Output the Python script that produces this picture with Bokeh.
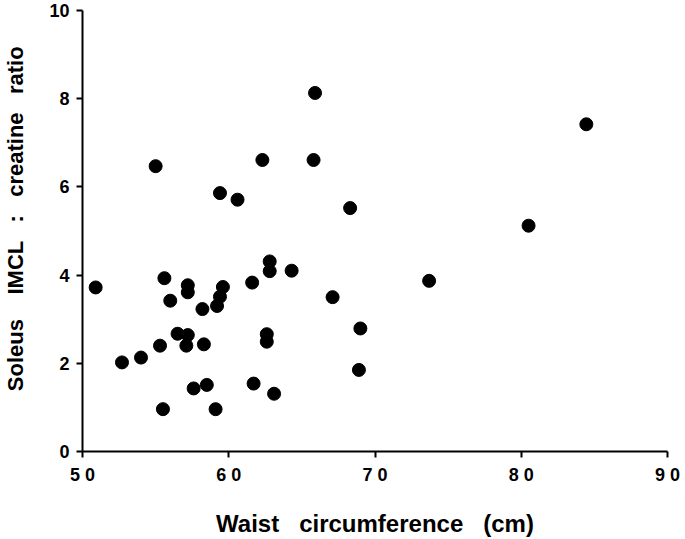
from bokeh.plotting import figure
from bokeh.models import Range1d, FixedTicker
from bokeh.embed import file_html
from bokeh.resources import INLINE

# Data
waist_cm = [50.9, 52.7, 54.0, 55.3, 55.6, 55.5, 56.0, 56.5, 57.2, 57.2,
            57.2, 57.1, 57.6, 58.2, 58.3, 58.5, 59.1, 59.2, 59.4, 59.6,
            60.6, 61.6, 61.7, 62.8, 62.8, 62.6, 62.6, 63.1, 64.3, 67.1,
            68.3, 69.0, 68.9, 65.9, 62.3, 65.8, 59.4, 55.0, 80.5, 73.7,
            84.45]
imcl_ratio = [3.72, 2.02, 2.13, 2.40, 3.93, 0.96, 3.42, 2.67, 3.77, 3.61,
              2.64, 2.40, 1.43, 3.23, 2.43, 1.51, 0.96, 3.30, 3.51, 3.73,
              5.71, 3.83, 1.54, 4.31, 4.09, 2.66, 2.49, 1.31, 4.10, 3.50,
              5.52, 2.79, 1.85, 8.13, 6.61, 6.61, 5.86, 6.47, 5.12, 3.87,
              7.42]

x_ticks = [50, 60, 70, 80, 90]
x_tick_labels = ["5 0", "6 0", "7 0", "8 0", "9 0"]
y_ticks = [0, 2, 4, 6, 8, 10]

NB = "\u00a0"
x_title = ("Waist" + NB * 3 + "circumference" + NB * 3 + "(cm)")
y_title = (NB * 4 + "Soleus" + NB * 4 + "IMCL" + NB * 3 + ":" + NB * 3
           + "creatine" + NB * 3 + "ratio")

FONT = "Liberation Sans"

p = figure(width=685, height=539, output_backend="svg", toolbar_location=None,
           x_range=Range1d(50, 90), y_range=Range1d(0, 10),
           min_border_left=82, min_border_right=18, min_border_top=10,
           min_border_bottom=88)
p.outline_line_color = None
p.grid.grid_line_color = None
p.background_fill_color = "white"
p.border_fill_color = "white"

p.scatter(waist_cm, imcl_ratio, size=13, marker="circle",
          fill_color="black", line_color="black")

for ax in (p.xaxis[0], p.yaxis[0]):
    ax.axis_line_width = 2
    ax.axis_line_color = "black"
    ax.major_tick_line_width = 2
    ax.major_tick_line_color = "black"
    ax.major_tick_out = 6
    ax.major_tick_in = 0
    ax.minor_tick_line_color = None
    ax.major_label_text_font = FONT
    ax.major_label_text_font_style = "bold"
    ax.major_label_text_color = "black"
    ax.axis_label_text_font = FONT
    ax.axis_label_text_font_style = "bold"
    ax.axis_label_text_color = "black"

xa = p.xaxis[0]
xa.ticker = FixedTicker(ticks=x_ticks)
xa.major_label_overrides = {t: l for t, l in zip(x_ticks, x_tick_labels)}
xa.major_label_text_font_size = "18px"
xa.major_label_standoff = 7
xa.axis_label = x_title
xa.axis_label_text_font_size = "24px"
xa.axis_label_standoff = 22

ya = p.yaxis[0]
ya.ticker = FixedTicker(ticks=y_ticks)
ya.major_label_text_font_size = "18px"
ya.major_label_standoff = 7
ya.axis_label = y_title
ya.axis_label_text_font_size = "22px"
ya.axis_label_standoff = 18

open("out.html", "w").write(file_html(p, INLINE))
